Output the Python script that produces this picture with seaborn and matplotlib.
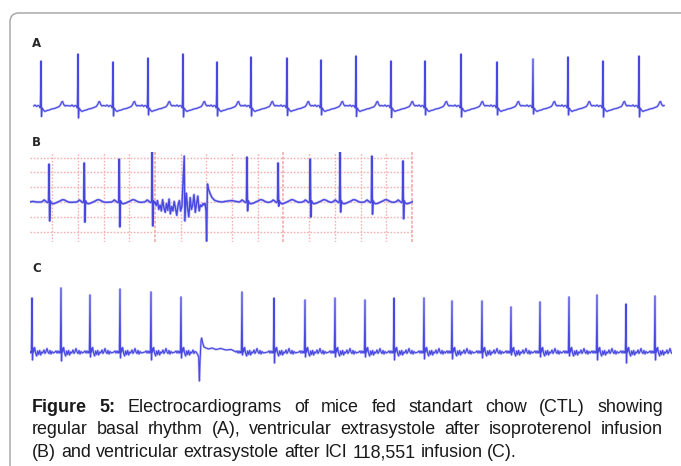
import numpy as np
import matplotlib
matplotlib.use("Agg")
import matplotlib.pyplot as plt
from matplotlib.patches import FancyBboxPatch
from matplotlib.transforms import IdentityTransform
import seaborn as sns

# ---- data (time in ms, amplitude in mV) ----
# panel A: regular basal rhythm
a_beats = [33, 144, 249, 354, 459, 561, 663, 771, 873, 978, 1083, 1185, 1293, 1401, 1509, 1614, 1719, 1827]
a_r = [0.9, 1.04, 0.88, 0.96, 1.04, 0.88, 0.98, 0.96, 0.92, 1.0, 0.9, 0.9, 1.04, 0.88, 0.94, 0.98, 0.9, 1.0]
a_s = [-0.21, -0.24, -0.2, -0.18, -0.22, -0.2, -0.2, -0.19, -0.18, -0.21, -0.23, -0.18, -0.22, -0.18, -0.16, -0.18, -0.22, -0.22]
# beat shape, R and S slots are filled per beat
a_tmpl_t = [-22, -18, -13, -9, -5, -2, 0, 1.5, 3.5, 7, 12, 18, 25, 32, 40, 48, 55, 59, 62, 65, 68, 72, 76]
a_tmpl_v = [0.0, 0.02, -0.01, 0.01, 0.0, -0.04, 1, -1, -0.04, -0.08, -0.11, -0.09, -0.08, -0.06, -0.05, -0.03, -0.01, 0.03, 0.08, 0.09, 0.03, 0.0, 0.01]

# panel B: extrasystole after isoproterenol
b_beats = [88, 225, 361, 489, 614, 858, 979, 1104, 1220, 1344, 1465]
b_r = [1.28, 1.32, 1.45, 1.69, 1.55, 1.52, 1.32, 1.45, 1.72, 1.55, 1.39]
b_s = [-0.64, -0.68, -0.84, -0.81, -0.64, -0.30, -0.14, -0.51, -0.34, -0.41, -0.57]
b_tmpl_t = [-30, -24, -19, -14, -9, -5, -2, 0, 2.5, 5, 9, 15, 24, 34, 44, 52, 60, 68, 76, 84]
b_tmpl_v = [0.0, 0.03, 0.07, 0.04, 0.0, -0.02, 0.03, 1, -1, 0.04, -0.03, -0.06, -0.04, 0.0, 0.04, 0.08, 0.07, 0.03, 0.0, -0.01]
b_lead_t = [10, 25, 40]
b_lead_v = [0.0, 0.02, 0.0]
b_noise_t = [500, 505, 510, 515, 520, 525, 530, 535, 540, 545, 550, 555, 560, 565, 570, 575, 580, 585,
             590, 595, 600, 605, 622, 627, 632, 637, 642, 647, 652, 657, 662, 667, 672, 677, 682, 687, 691]
b_noise_v = [0.0, -0.12, 0.05, -0.25, -0.1, -0.3, 0.08, -0.2, -0.35, -0.05, -0.28, 0.1, -0.4, -0.15, -0.3,
             0.02, -0.22, -0.45, -0.1, 0.05, -0.3, -0.15, 0.3, -0.2, -0.5, 0.15, -0.25, -0.1, 0.25, -0.35,
             -0.05, 0.2, -0.3, -0.1, -0.15, -0.05, -0.1]
b_ect_t = [695, 699, 701, 703, 704.5, 708, 714, 722, 732, 745, 760, 780, 800, 815]
b_ect_v = [-0.05, -0.3, -1.32, -0.2, 0.61, 0.45, 0.3, 0.15, 0.06, 0.02, 0.0, 0.03, 0.05, 0.02]

# panel C: extrasystole after ICI 118,551
c_beats = [6, 93, 180, 270, 363, 453, 636, 732, 825, 915, 1005, 1092, 1182, 1266, 1356, 1443, 1530, 1617, 1701, 1788, 1875]
c_r = [1.08, 1.28, 1.14, 1.26, 1.2, 1.1, 1.2, 1.08, 1.04, 1.08, 1.04, 1.08, 1.08, 1.02, 1.02, 0.9, 1.0, 1.1, 1.14, 0.96, 1.12]
c_s = [-0.16, -0.18, -0.1, -0.12, -0.16, -0.12, -0.06, -0.22, -0.1, -0.1, -0.1, -0.16, -0.14, -0.14, -0.12, -0.06, -0.1, -0.08, -0.16, -0.22, -0.16]
c_tmpl_t = [-18, -15, -12, -9, -6, -4, -2, 0, 1.5, 3, 5, 8, 11, 14, 17, 20, 23, 26, 29, 32, 36, 39, 42, 45, 48, 51, 54, 57, 60, 64]
c_tmpl_v = [0.0, 0.02, -0.02, 0.02, -0.02, 0.01, -0.02, 1, -1, 0.08, 0.0, 0.09, -0.03, -0.08, 0.02, -0.05, 0.03, -0.06,
            0.0, -0.02, 0.04, -0.03, 0.01, 0.07, 0.0, -0.03, 0.03, -0.04, 0.01, -0.02]
c_ect_t = [498, 503, 506, 508, 510, 513, 515, 518, 522, 528, 536, 546, 558, 572, 588, 604]
c_ect_v = [0.0, -0.05, -0.1, -0.58, -0.2, 0.22, 0.28, 0.18, 0.1, 0.08, 0.06, 0.08, 0.05, 0.07, 0.04, 0.05]

caption = [
    "Figure 5: Electrocardiograms of mice fed standart chow (CTL) showing",
    "regular basal rhythm (A), ventricular extrasystole after isoproterenol infusion",
    "(B) and ventricular extrasystole after ICI 118,551 infusion (C).",
]


def build_trace(beats, r, s, tt, tv, extras=()):
    """Place the beat shape at every beat, extras (artefacts, ectopics) replace it locally."""
    ri = tt.index(0)
    windows = [(min(et), max(et)) for et, ev in extras]
    pts = []
    for i, tb in enumerate(beats):
        nxt = beats[i + 1] + tt[0] if i + 1 < len(beats) else np.inf
        for j, (off, v) in enumerate(zip(tt, tv)):
            t = tb + off
            if t >= nxt:
                break
            if j == ri:
                pts.append((t, r[i]))
            elif j == ri + 1:
                pts.append((t, s[i]))
            elif not any(lo <= t <= hi for lo, hi in windows):
                pts.append((t, v))
    for et, ev in extras:
        pts.extend(zip(et, ev))
    pts.sort()
    return [p[0] for p in pts], [p[1] for p in pts]


W, H = 681, 466


def px_axes(fig, x0, y0, x1, y1):
    return fig.add_axes([x0 / W, 1 - y1 / H, (x1 - x0) / W, (y1 - y0) / H])


sns.set_style("white")
plt.rcParams['font.family'] = ['Liberation Sans', 'DejaVu Sans']

fig = plt.figure(figsize=(W / 100, H / 100), dpi=100)

# outer frame with rounded corner
frame = FancyBboxPatch((10, -40), 740, H - 13 + 40, boxstyle="round,pad=0,rounding_size=9",
                       transform=IdentityTransform(), fill=False, ec="#a9a9a9", lw=1.1)
fig.add_artist(frame)

halo = "#aeaef3"
core = "#4848e0"


def draw(ax, t, v, lw_core=0.8, lw_halo=1.7):
    sns.lineplot(x=t, y=v, ax=ax, color=halo, lw=lw_halo, estimator=None, sort=False, alpha=0.8)
    sns.lineplot(x=t, y=v, ax=ax, color=core, lw=lw_core, estimator=None, sort=False)


# --- A ---
axA = px_axes(fig, 30, 45, 665, 125)
tA, vA = build_trace(a_beats, a_r, a_s, a_tmpl_t, a_tmpl_v)
draw(axA, tA, vA)
axA.set_xlim(0, 1905)
axA.set_ylim(-0.38, 1.22)
axA.axis("off")

# --- B ---
axB = px_axes(fig, 30, 152, 413, 242)
tB, vB = build_trace(b_beats, b_r, b_s, b_tmpl_t, b_tmpl_v,
                     extras=[(b_lead_t, b_lead_v), (b_noise_t, b_noise_v), (b_ect_t, b_ect_v)])
axB.set_axisbelow(True)
axB.set_xticks([500, 1000, 1500])
axB.set_xticks([x for x in range(100, 1500, 100) if x % 500], minor=True)
axB.set_yticks([-1.0, -0.5, 0.0, 0.5, 1.0, 1.5])
axB.grid(which="major", axis="x", color="#f3a3a3", lw=1.1, ls=(0, (2, 1)))
axB.grid(which="minor", axis="x", color="#f5b0b0", lw=1.0, ls=(0, (1.2, 1.2)))
axB.grid(which="major", axis="y", color="#f5b0b0", lw=1.0, ls=(0, (1.2, 1.2)))
draw(axB, tB, vB, lw_core=1.0, lw_halo=1.9)
axB.set_xlim(14, 1504)
axB.set_ylim(-1.35, 1.69)
axB.tick_params(which="both", length=0, labelbottom=False, labelleft=False)
sns.despine(ax=axB, left=True, bottom=True)
axB.patch.set_alpha(0)

# --- C ---
axC = px_axes(fig, 30, 280, 672, 390)
tC, vC = build_trace(c_beats, c_r, c_s, c_tmpl_t, c_tmpl_v, extras=[(c_ect_t, c_ect_v)])
draw(axC, tC, vC)
axC.set_xlim(0, 1926)
axC.set_ylim(-0.76, 1.44)
axC.axis("off")

# panel letters
for lab, yb in [("A", 47), ("B", 146), ("C", 272)]:
    fig.text(32 / W, 1 - yb / H, lab, fontsize=8.5, fontweight="bold", family=["DejaVu Sans"], va="baseline")

# caption, first two lines justified
renderer = fig.canvas.get_renderer()
x_left, x_right = 32, 663
baselines = [412, 434.5, 457]
fs = 12.9
sp = fig.text(0, 0, "a a", fontsize=fs)
sp2 = fig.text(0, 0, "aa", fontsize=fs)
space_w = sp.get_window_extent(renderer).width - sp2.get_window_extent(renderer).width
sp.remove()
sp2.remove()
for li, line in enumerate(caption):
    words = line.split(" ")
    texts = []
    for wi, w in enumerate(words):
        bold = li == 0 and wi < 2
        texts.append(fig.text(0, 0, w, fontsize=fs, fontweight="bold" if bold else "normal",
                              va="baseline", color="#1a1a1a"))
    widths = [t.get_window_extent(renderer).width for t in texts]
    if li < 2:
        gap = (x_right - x_left - sum(widths)) / (len(words) - 1)
    else:
        gap = space_w
    x = x_left
    for t, w in zip(texts, widths):
        t.set_position((x / W, 1 - baselines[li] / H))
        x += w + gap

fig.savefig("out.png", dpi=100)
